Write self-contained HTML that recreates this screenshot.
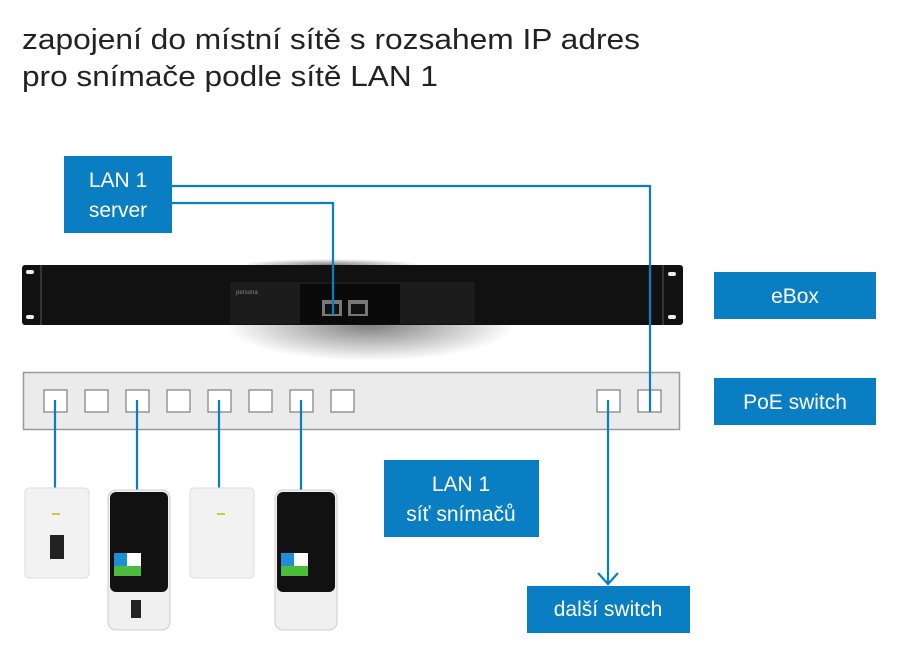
<!DOCTYPE html>
<html><head><meta charset="utf-8"><style>
html,body{margin:0;padding:0;background:#fff;}
svg{display:block;font-family:"Liberation Sans",sans-serif;}
</style></head><body>
<svg width="902" height="663" viewBox="0 0 902 663" xmlns="http://www.w3.org/2000/svg">
<defs>
<radialGradient id="sh" cx="50%" cy="50%" r="50%">
<stop offset="0" stop-color="#000" stop-opacity="0.5"/>
<stop offset="1" stop-color="#000" stop-opacity="0"/>
</radialGradient>
</defs>
<text x="22" y="49" font-size="29" fill="#222" textLength="618" lengthAdjust="spacingAndGlyphs">zapojení do místní sítě s rozsahem IP adres</text>
<text x="22" y="86" font-size="29" fill="#222" textLength="416" lengthAdjust="spacingAndGlyphs">pro snímače podle sítě LAN 1</text>

<ellipse cx="370" cy="325" rx="145" ry="36" fill="url(#sh)"/>
<ellipse cx="330" cy="265" rx="90" ry="6" fill="url(#sh)"/>
<rect x="22" y="265" width="661" height="60" rx="3" fill="#111"/>
<rect x="26" y="270" width="8" height="4" rx="2" fill="#eee"/>
<rect x="26" y="315" width="8" height="4" rx="2" fill="#eee"/>
<rect x="668" y="272" width="8" height="4" rx="2" fill="#eee"/>
<rect x="668" y="315" width="8" height="4" rx="2" fill="#eee"/>
<rect x="40" y="265" width="2" height="60" fill="#333"/>
<rect x="662" y="265" width="2" height="60" fill="#333"/>
<rect x="230" y="282" width="245" height="42" fill="#1c1c1c"/>
<rect x="300" y="284" width="100" height="40" fill="#0a0a0a"/>
<rect x="322" y="300" width="20" height="16" fill="#777"/>
<rect x="348" y="300" width="20" height="16" fill="#777"/>
<rect x="325" y="304" width="14" height="10" fill="#111"/>
<rect x="351" y="304" width="14" height="10" fill="#111"/>
<text x="236" y="294" font-size="6" fill="#888">persona</text>

<rect x="23.5" y="372.5" width="656" height="57" fill="#ebebeb" stroke="#9a9a9a" stroke-width="1.5"/>
<g fill="#fff" stroke="#888" stroke-width="1.3">
<rect x="44" y="390" width="23" height="22"/>
<rect x="85" y="390" width="23" height="22"/>
<rect x="126" y="390" width="23" height="22"/>
<rect x="167" y="390" width="23" height="22"/>
<rect x="208" y="390" width="23" height="22"/>
<rect x="249" y="390" width="23" height="22"/>
<rect x="290" y="390" width="23" height="22"/>
<rect x="331" y="390" width="23" height="22"/>
<rect x="597" y="390" width="23" height="22"/>
<rect x="638" y="390" width="23" height="22"/>
</g>

<g fill="none" stroke="#0a7ec2" stroke-width="2.2">
<polyline points="172,186 650,186 650,412"/>
<polyline points="172,203 333,203 333,315"/>
<line x1="55" y1="400" x2="55" y2="490"/>
<line x1="137" y1="400" x2="137" y2="490"/>
<line x1="219" y1="400" x2="219" y2="490"/>
<line x1="301" y1="400" x2="301" y2="490"/>
<line x1="608" y1="400" x2="608" y2="584"/>
<polyline points="598,573 608,584 618,573"/>
</g>

<rect x="25" y="488" width="64" height="90" rx="4" fill="#f2f2f2" stroke="#ddd"/>
<rect x="50" y="535" width="14" height="24" fill="#222"/>
<rect x="52" y="513" width="8" height="2" fill="#cc3"/>
<rect x="190" y="488" width="64" height="90" rx="4" fill="#f2f2f2" stroke="#ddd"/>
<rect x="217" y="513" width="8" height="2" fill="#cc3"/>
<g>
<rect x="108" y="490" width="62" height="140" rx="8" fill="#f0f0f0" stroke="#ccc"/>
<rect x="110" y="492" width="58" height="100" rx="6" fill="#111"/>
<rect x="114" y="553" width="13" height="13" fill="#1e8fd6"/>
<rect x="127" y="553" width="14" height="13" fill="#fff"/>
<rect x="114" y="566" width="27" height="10" fill="#4cbc3c"/>
<rect x="131" y="600" width="10" height="18" fill="#222"/>
</g>
<g>
<rect x="275" y="490" width="62" height="140" rx="8" fill="#f0f0f0" stroke="#ccc"/>
<rect x="277" y="492" width="58" height="100" rx="6" fill="#111"/>
<rect x="281" y="553" width="13" height="13" fill="#1e8fd6"/>
<rect x="294" y="553" width="14" height="13" fill="#fff"/>
<rect x="281" y="566" width="27" height="10" fill="#4cbc3c"/>
</g>

<g fill="#0a7ec2">
<rect x="64" y="156" width="108" height="77"/>
<rect x="714" y="272" width="162" height="47"/>
<rect x="714" y="378" width="162" height="47"/>
<rect x="384" y="460" width="155" height="77"/>
<rect x="527" y="586" width="163" height="47"/>
</g>
<g fill="#fff" font-size="21" text-anchor="middle">
<text x="118" y="187">LAN 1</text>
<text x="118" y="217">server</text>
<text x="795" y="303">eBox</text>
<text x="795" y="409">PoE switch</text>
<text x="461" y="491">LAN 1</text>
<text x="461" y="521">síť snímačů</text>
<text x="608" y="616">další switch</text>
</g>
</svg>
</body></html>
